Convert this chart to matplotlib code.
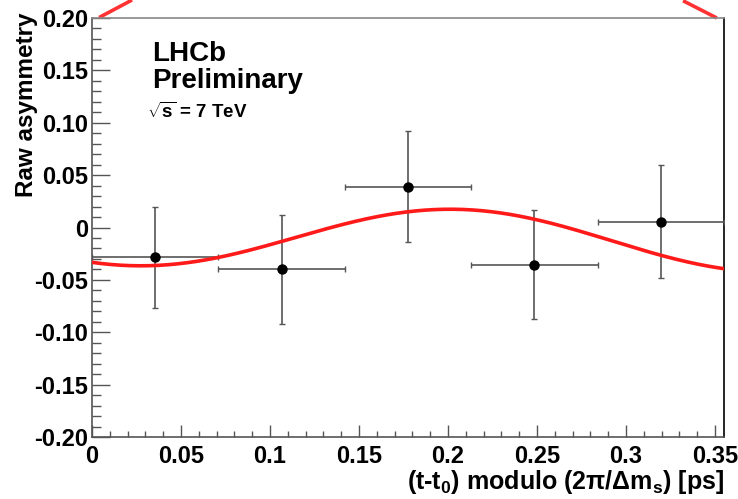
import matplotlib
matplotlib.use('Agg')
import matplotlib.pyplot as plt
import numpy as np
from matplotlib.ticker import MultipleLocator

plt.rcParams['font.family'] = ['Liberation Sans', 'DejaVu Sans']
plt.rcParams['mathtext.fontset'] = 'custom'
plt.rcParams['mathtext.rm'] = 'Liberation Sans:bold'
plt.rcParams['mathtext.it'] = 'Liberation Sans:bold'
plt.rcParams['mathtext.bf'] = 'Liberation Sans:bold'

# data: 5 bins over one oscillation period
period = 0.355
bin_centers = [0.0355, 0.1065, 0.1775, 0.2485, 0.3195]
bin_half = [0.0355, 0.0355, 0.0355, 0.0355, 0.0355]
asym = [-0.0285, -0.040, 0.039, -0.0355, 0.0055]
asym_err = [0.048, 0.052, 0.053, 0.052, 0.054]

# fit curve parameters
fit_offset = -0.0076
fit_slope = -0.017
fit_amp = 0.0285
fit_tmax = 0.203

# stray red segments drawn above the frame
stray_left_x = [0.004, 0.0225]
stray_left_y = [0.2005, 0.2172]
stray_right_x = [0.332, 0.351]
stray_right_y = [0.2165, 0.2]

fig = plt.figure(figsize=(7.38, 4.99), dpi=100)
ax = fig.add_axes([0.1247, 0.1242, 0.8563, 0.8397])

ax.errorbar(bin_centers, asym, xerr=bin_half, yerr=asym_err, fmt='o', color='black',
            ecolor='#555555', elinewidth=1.2, capsize=2.5, capthick=1, markersize=6.5, zorder=3)

t = np.linspace(0, period, 400)
curve = fit_offset + fit_slope * t + fit_amp * np.cos(2 * np.pi * (t - fit_tmax) / period)
ax.plot(t, curve, color='#ff1a1a', lw=2.6, zorder=4)

ax.plot(stray_left_x, stray_left_y, color='#ff3333', lw=2.6, clip_on=False, solid_capstyle='butt')
ax.plot(stray_right_x, stray_right_y, color='#ff3333', lw=2.6, clip_on=False, solid_capstyle='butt')

ax.set_xlim(0, period)
ax.set_ylim(-0.2, 0.2)

ax.xaxis.set_minor_locator(MultipleLocator(0.01))
ax.yaxis.set_minor_locator(MultipleLocator(0.01))

xt = [0, 0.05, 0.1, 0.15, 0.2, 0.25, 0.3, 0.35]
xt_labels = ['0', '0.05', '0.1', '0.15', '0.2', '0.25', '0.3', '0.35']
ax.set_xticks(xt)
ax.set_xticklabels(xt_labels, fontsize=17, fontweight='bold')
yt = [-0.2, -0.15, -0.1, -0.05, 0, 0.05, 0.1, 0.15, 0.2]
yt_labels = ['-0.20', '-0.15', '-0.10', '-0.05', '0', '0.05', '0.10', '0.15', '0.20']
ax.set_yticks(yt)
ax.set_yticklabels(yt_labels, fontsize=17, fontweight='bold')

ax.tick_params(axis='y', which='major', direction='in', length=13, width=1, color='#555555', pad=3)
ax.tick_params(axis='y', which='minor', direction='in', length=6.5, width=1, color='#555555')
ax.tick_params(axis='x', which='major', direction='in', length=9, width=1, color='#555555', pad=6)
ax.tick_params(axis='x', which='minor', direction='in', length=4, width=1, color='#555555')

for side in ['left', 'bottom']:
    ax.spines[side].set_color('#555555')
ax.spines['top'].set_color('#888888')
ax.spines['right'].set_color('black')
for s in ax.spines.values():
    s.set_linewidth(1.2)

# axis titles, ROOT style (aligned to the ends of the axes)
ax.text(-0.103, 1.014, 'Raw asymmetry', transform=ax.transAxes, rotation=90,
        fontsize=17.5, fontweight='bold', ha='center', va='top')
ax.text(1.0, -0.124, r'(t-t$_0$) modulo (2$\pi$/$\Delta$m$_s$) [ps]', transform=ax.transAxes,
        fontsize=18, fontweight='bold', ha='right', va='baseline')

ax.text(0.095, 0.915, 'LHCb', transform=ax.transAxes, fontsize=20, fontweight='bold', va='center')
ax.text(0.095, 0.85, 'Preliminary', transform=ax.transAxes, fontsize=20, fontweight='bold', va='center')
ax.text(0.087, 0.775, r'$\sqrt{s}$ = 7 TeV', transform=ax.transAxes, fontsize=13.5, fontweight='bold', va='center')

fig.savefig('out.png', dpi=100)
